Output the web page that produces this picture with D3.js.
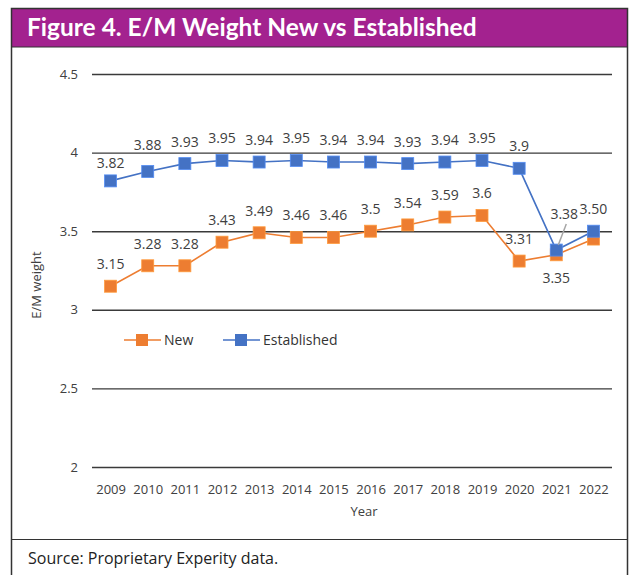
<!DOCTYPE html>
<html>
<head>
<meta charset="utf-8">
<script src="https://cdn.jsdelivr.net/npm/d3@7"></script>
<style>
  html, body { margin: 0; padding: 0; background: #fff; }
  svg { display: block; font-family: "Open Sans", "Noto Sans", sans-serif; }
</style>
</head>
<body>
<div id="chart"></div>
<script>
// data
const years = ["2009", "2010", "2011", "2012", "2013", "2014", "2015", "2016", "2017", "2018", "2019", "2020", "2021", "2022"];
const newVals = [3.15, 3.28, 3.28, 3.43, 3.49, 3.46, 3.46, 3.5, 3.54, 3.59, 3.6, 3.31, 3.35, 3.45];
const estVals = [3.82, 3.88, 3.93, 3.95, 3.94, 3.95, 3.94, 3.94, 3.93, 3.94, 3.95, 3.9, 3.38, 3.5];
const newLabels = ["3.15", "3.28", "3.28", "3.43", "3.49", "3.46", "3.46", "3.5", "3.54", "3.59", "3.6", "3.31", "3.35", null];
const estLabels = ["3.82", "3.88", "3.93", "3.95", "3.94", "3.95", "3.94", "3.94", "3.93", "3.94", "3.95", "3.9", "3.38", "3.50"];
const yTicks = [2, 2.5, 3, 3.5, 4, 4.5];

const width = 631, height = 575;
const orange = "#ed7d31", blue = "#4472c4", purple = "#a3228f";

const svg = d3.select("#chart").append("svg")
  .attr("width", width)
  .attr("height", height);

// frame + header
svg.append("rect").attr("x", 11).attr("y", 8).attr("width", 617).attr("height", 39)
  .attr("fill", purple);
svg.append("text").attr("x", 27).attr("y", 36)
  .attr("fill", "#fff").attr("font-family", "Lato, sans-serif")
  .attr("font-weight", 700).attr("font-size", 24.5)
  .text("Figure 4. E/M Weight New vs Established");
svg.append("path")
  .attr("d", "M11.5,575V8.5H627.5V575")
  .attr("fill", "none").attr("stroke", "#333").attr("stroke-width", 1.5);
svg.append("line").attr("x1", 11).attr("x2", 628).attr("y1", 47).attr("y2", 47)
  .attr("stroke", "#333").attr("stroke-width", 1);
svg.append("line").attr("x1", 11).attr("x2", 628).attr("y1", 539.5).attr("y2", 539.5)
  .attr("stroke", "#333").attr("stroke-width", 1.2);
svg.append("text").attr("x", 28).attr("y", 564)
  .attr("fill", "#222").attr("font-size", 16)
  .text("Source: Proprietary Experity data.");

// scales
const x = d3.scalePoint().domain(years).range([92, 612]).padding(0.5);
const y = d3.scaleLinear().domain([2, 4.5]).range([467, 74]);

// gridlines + y ticks
const yAxis = svg.append("g")
  .attr("transform", "translate(92,0)")
  .call(d3.axisLeft(y).tickValues(yTicks).tickSize(-520).tickPadding(14)
    .tickFormat(d => d));
yAxis.select(".domain").remove();
yAxis.selectAll(".tick line").attr("stroke", "#3a3a3a").attr("stroke-width", 1.4);
yAxis.selectAll(".tick text").attr("fill", "#404040").attr("font-size", 13)
  .attr("font-family", "Open Sans, sans-serif");

// x labels
const xAxis = svg.append("g")
  .attr("transform", "translate(0,467)")
  .call(d3.axisBottom(x).tickSize(0).tickPadding(18));
xAxis.select(".domain").remove();
xAxis.selectAll(".tick text").attr("fill", "#404040").attr("font-size", 13)
  .attr("font-family", "Open Sans, sans-serif");

svg.append("text").attr("x", 364).attr("y", 516).attr("text-anchor", "middle")
  .attr("fill", "#404040").attr("font-size", 13).text("Year");
svg.append("text")
  .attr("transform", "translate(41,285) rotate(-90)")
  .attr("text-anchor", "middle").attr("fill", "#404040").attr("font-size", 13)
  .text("E/M weight");

// series
const line = d3.line().x((d, i) => x(years[i])).y(d => y(d));

function drawSeries(vals, color) {
  svg.append("path").datum(vals)
    .attr("d", line).attr("fill", "none")
    .attr("stroke", color).attr("stroke-width", 1.6);
  svg.selectAll(null).data(vals).enter().append("rect")
    .attr("x", (d, i) => x(years[i]) - 6)
    .attr("y", d => y(d) - 6)
    .attr("width", 12).attr("height", 12)
    .attr("fill", color)
    .attr("stroke", d3.color(color).brighter(0.6)).attr("stroke-width", 0.8);
}
drawSeries(newVals, orange);
drawSeries(estVals, blue);

// data labels
function drawLabels(vals, labels, placeBelow) {
  svg.selectAll(null).data(vals).enter()
    .filter((d, i) => labels[i] !== null)
    .append("text")
    .attr("x", (d, i) => {
      if (labels === estLabels && i === 12) return x(years[i]) + 8;
      return x(years[i]);
    })
    .attr("y", (d, i) => {
      if (labels === estLabels && i === 12) return y(d) - 31;
      if (labels === estLabels && i === 0) return y(d) - 13;
      if (labels === estLabels && i === 1) return y(d) - 21;
      if (placeBelow(i)) return y(d) + 28;
      return y(d) - 17;
    })
    .attr("text-anchor", "middle")
    .attr("fill", "#404040").attr("font-size", 14)
    .text((d, i) => labels[i]);
}
drawLabels(newVals, newLabels, i => i === 12);
drawLabels(estVals, estLabels, () => false);

// leader line for 2021 established label
svg.append("line")
  .attr("x1", x("2021") + 10).attr("y1", y(estVals[12]) - 26)
  .attr("x2", x("2021") + 2).attr("y2", y(estVals[12]) - 5)
  .attr("stroke", "#a6a6a6").attr("stroke-width", 1.5);

// legend
const legend = [
  { name: "New", color: orange, x0: 124 },
  { name: "Established", color: blue, x0: 223 }
];
const lg = svg.selectAll(".legend").data(legend).enter().append("g")
  .attr("class", "legend")
  .attr("transform", d => `translate(${d.x0},340)`);
lg.append("line").attr("x1", 0).attr("x2", 37).attr("y1", 0).attr("y2", 0)
  .attr("stroke", d => d.color).attr("stroke-width", 1.6);
lg.append("rect").attr("x", 12).attr("y", -6).attr("width", 12).attr("height", 12)
  .attr("fill", d => d.color);
lg.append("text").attr("x", 40).attr("y", 5).attr("fill", "#333")
  .attr("font-size", 14).text(d => d.name);
</script>
</body>
</html>
